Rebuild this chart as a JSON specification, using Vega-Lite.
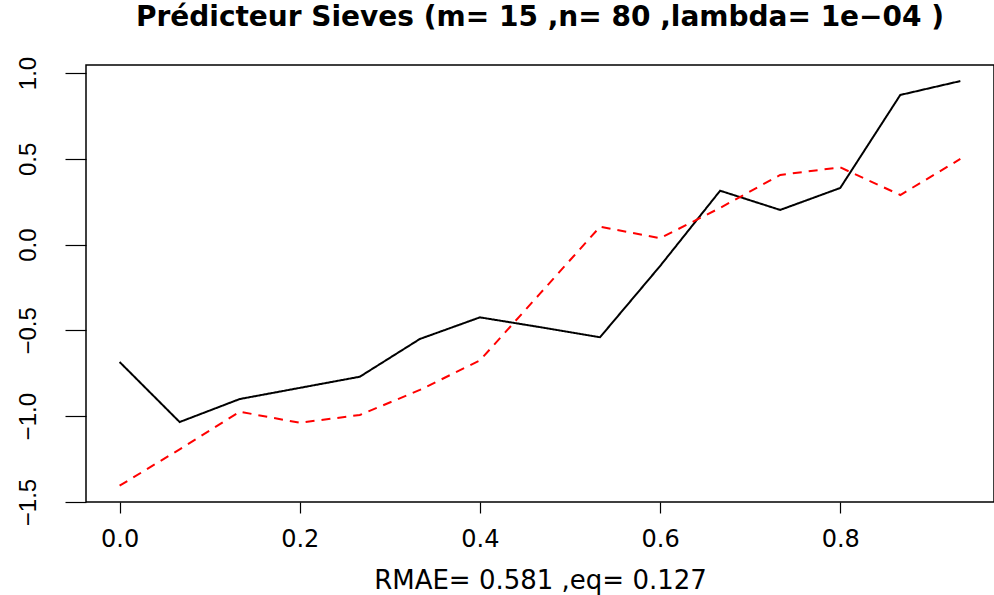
{
  "$schema": "https://vega.github.io/schema/vega-lite/v6.json",
  "width": 908,
  "height": 437,
  "autosize": {"type": "none"},
  "padding": {"left": 86, "top": 65, "right": 0, "bottom": 93},
  "background": "white",
  "config": {
    "view": {"stroke": "black", "strokeWidth": 1.5},
    "axis": {"grid": false, "domain": false, "tickColor": "black", "tickWidth": 1.2, "labelColor": "black", "titleColor": "black"}
  },
  "title": {
    "text": "Prédicteur Sieves (m= 15 ,n= 80 ,lambda= 1e−04 )",
    "font": "DejaVu Sans",
    "fontSize": 28,
    "fontWeight": "bold",
    "color": "black",
    "anchor": "middle",
    "frame": "group",
    "baseline": "alphabetic",
    "offset": 2
  },
  "data": {
    "values": [
      {"x": 0.0, "serie": "vrai", "y": -0.684},
      {"x": 0.0666667, "serie": "vrai", "y": -1.034},
      {"x": 0.1333333, "serie": "vrai", "y": -0.9},
      {"x": 0.2, "serie": "vrai", "y": -0.835},
      {"x": 0.2666667, "serie": "vrai", "y": -0.77},
      {"x": 0.3333333, "serie": "vrai", "y": -0.55},
      {"x": 0.4, "serie": "vrai", "y": -0.424},
      {"x": 0.4666667, "serie": "vrai", "y": -0.481},
      {"x": 0.5333333, "serie": "vrai", "y": -0.54},
      {"x": 0.6, "serie": "vrai", "y": -0.125},
      {"x": 0.6666667, "serie": "vrai", "y": 0.314},
      {"x": 0.7333333, "serie": "vrai", "y": 0.202},
      {"x": 0.8, "serie": "vrai", "y": 0.33},
      {"x": 0.8666667, "serie": "vrai", "y": 0.872},
      {"x": 0.9333333, "serie": "vrai", "y": 0.953},
      {"x": 0.0, "serie": "pred", "y": -1.405},
      {"x": 0.0666667, "serie": "pred", "y": -1.193},
      {"x": 0.1333333, "serie": "pred", "y": -0.974},
      {"x": 0.2, "serie": "pred", "y": -1.038},
      {"x": 0.2666667, "serie": "pred", "y": -0.993},
      {"x": 0.3333333, "serie": "pred", "y": -0.847},
      {"x": 0.4, "serie": "pred", "y": -0.675},
      {"x": 0.4666667, "serie": "pred", "y": -0.286},
      {"x": 0.5333333, "serie": "pred", "y": 0.104},
      {"x": 0.6, "serie": "pred", "y": 0.037},
      {"x": 0.6666667, "serie": "pred", "y": 0.214},
      {"x": 0.7333333, "serie": "pred", "y": 0.406},
      {"x": 0.8, "serie": "pred", "y": 0.45},
      {"x": 0.8666667, "serie": "pred", "y": 0.289},
      {"x": 0.9333333, "serie": "pred", "y": 0.499}
    ]
  },
  "mark": {"type": "line", "strokeWidth": 2, "clip": true},
  "encoding": {
    "x": {
      "field": "x",
      "type": "quantitative",
      "scale": {"domain": [-0.0373, 0.9707], "nice": false, "zero": false},
      "axis": {
        "values": [0, 0.2, 0.4, 0.6, 0.8],
        "format": ".1f",
        "tickSize": 11,
        "labelFont": "DejaVu Sans",
        "labelFontSize": 24,
        "labelBaseline": "alphabetic",
        "labelPadding": 33,
        "title": "RMAE= 0.581 ,eq= 0.127",
        "titleFont": "DejaVu Sans",
        "titleFontSize": 26,
        "titleFontWeight": "normal",
        "titleBaseline": "alphabetic",
        "titleY": 86
      }
    },
    "y": {
      "field": "y",
      "type": "quantitative",
      "scale": {"domain": [-1.5, 1.0466], "nice": false, "zero": false},
      "axis": {
        "values": [-1.5, -1, -0.5, 0, 0.5, 1],
        "format": ".1f",
        "tickSize": 21,
        "labelFont": "Liberation Sans",
        "labelFontSize": 24,
        "labelAngle": 270,
        "labelAlign": "center",
        "labelBaseline": "alphabetic",
        "labelPadding": 30,
        "title": null
      }
    },
    "color": {
      "field": "serie",
      "type": "nominal",
      "scale": {"domain": ["vrai", "pred"], "range": ["black", "#FF0000"]},
      "legend": null
    },
    "strokeDash": {
      "field": "serie",
      "type": "nominal",
      "scale": {"domain": ["vrai", "pred"], "range": [[1, 0], [9, 7]]},
      "legend": null
    }
  }
}
